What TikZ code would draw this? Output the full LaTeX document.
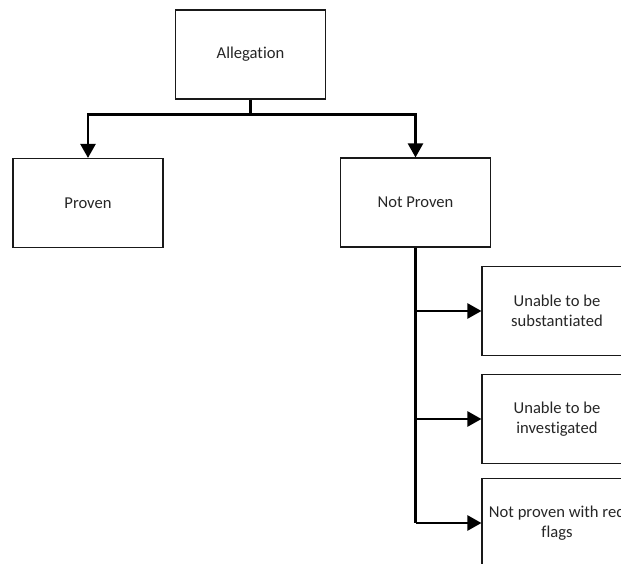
\documentclass[tikz,border=0pt]{standalone}
\usepackage{fontspec}
\setmainfont{Carlito}[Ligatures={NoCommon}]
\usetikzlibrary{arrows.meta}
\begin{document}
\begin{tikzpicture}[x=1pt,y=-1pt,
  box/.style={draw=black!90, line width=1.1pt, minimum width=150pt, minimum height=89pt,
    inner sep=0pt, align=center, text=black!85,
    font=\fontsize{16.6}{20}\selectfont},
  link/.style={draw=black, line width=2.4pt},
  arrowlink/.style={link, -{Triangle[length=14pt,width=15pt]}}]
  \useasboundingbox (0,0) rectangle (621,564);
  \clip (0,0) rectangle (621,564);

  % top level
  \node[box] (alleg) at (250.5,54.5) {Allegation};

  % outcomes
  \node[box] (proven) at (88,203) {Proven};
  \node[box] (notproven) at (415.5,202.5) {Not Proven};

  % categories of "not proven"
  \node[box] (subst) at (557,311) {Unable to be\\substantiated};
  \node[box] (invest) at (557,419) {Unable to be\\investigated};
  \node[box] (flags) at (557,523) {Not proven with red\\flags};

  % split from the allegation
  \draw[link] (alleg.south) -- ++(0,15) coordinate (split);
  \draw[arrowlink] (split) -| (proven.north);
  \draw[arrowlink] (split) -| (notproven.north);

  % spine under "Not Proven"
  \coordinate (tap1) at (notproven.south |- subst.west);
  \coordinate (tap2) at (notproven.south |- invest.west);
  \draw[link] (notproven.south) -- (notproven.south |- flags.west);
  \draw[arrowlink] (notproven.south |- flags.west) -- (flags.west);
  \draw[arrowlink] (tap1) -- (subst.west);
  \draw[arrowlink] (tap2) -- (invest.west);
\end{tikzpicture}
\end{document}
